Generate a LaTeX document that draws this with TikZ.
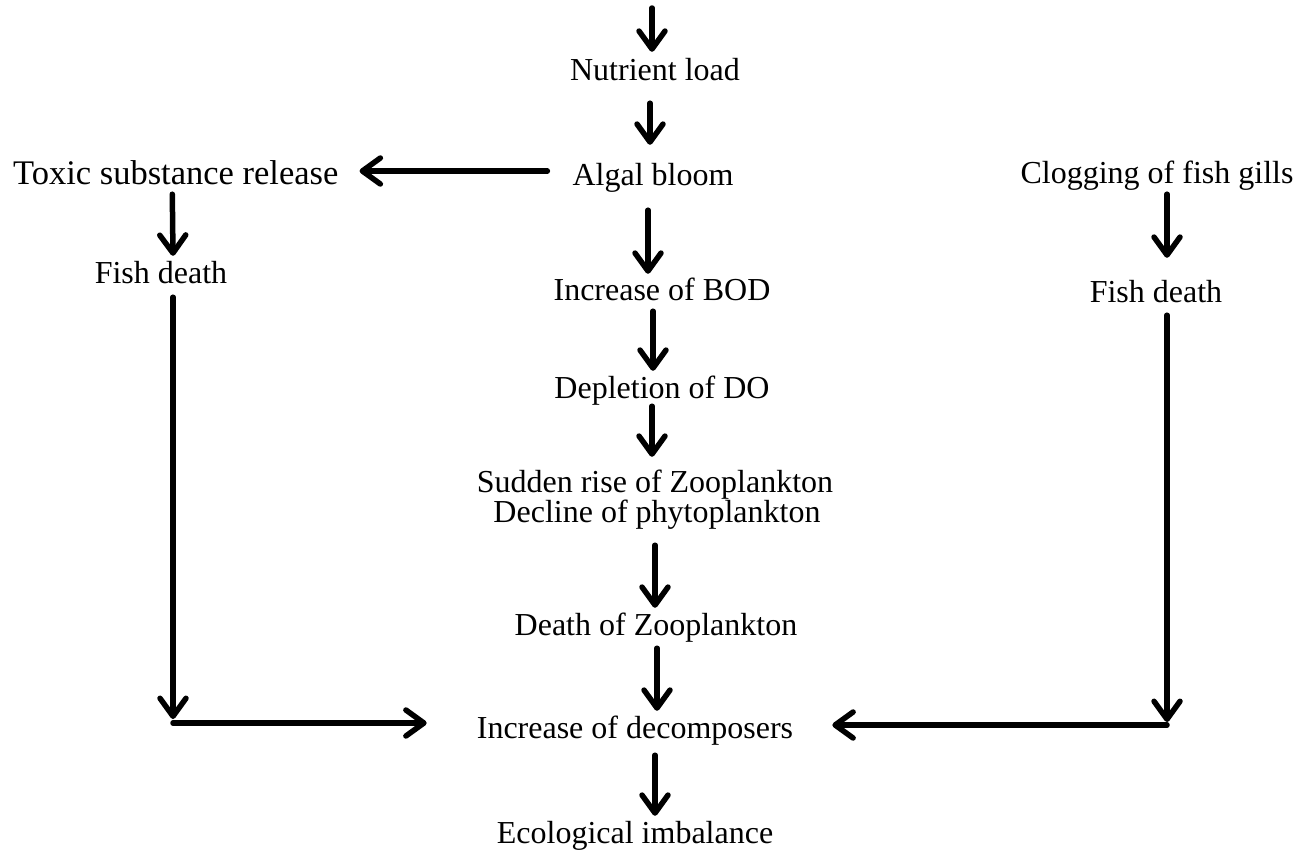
\documentclass[tikz,border=0pt]{standalone}
\usepackage{fontspec}
\setmainfont{Liberation Serif}
\usetikzlibrary{arrows.meta}
\tikzset{
  lbl/.style={anchor=base, inner sep=0pt, text height=22pt, text depth=7pt, font=\fontsize{32}{36}\selectfont},
  arr/.style={line width=5.5pt, -{Straight Barb[length=18pt,width=26pt,round]}},
  flow/.style={line width=5.5pt}
}
\begin{document}
\begin{tikzpicture}[x=1pt, y=-1pt, line join=round, line cap=round]
\useasboundingbox (0,0) rectangle (1308,852);
% centre column
\coordinate (src) at (652,8);
\node[lbl] (nl) at (655,80) {Nutrient load};
\node[lbl] (ab) at (653,185) {Algal bloom};
\node[lbl] (bod) at (662,300) {Increase of BOD};
\node[lbl] (dod) at (662,398) {Depletion of DO};
\node[lbl] (zr) at (655,492) {Sudden rise of Zooplankton};
\node[lbl] (pd) at (657,522) {Decline of phytoplankton};
\node[lbl] (zd) at (656,635) {Death of Zooplankton};
\node[lbl] (dc) at (635,738) {Increase of decomposers};
\node[lbl] (eco) at (635,843) {Ecological imbalance};
% left branch
\node[lbl, anchor=base west, font=\fontsize{34.5}{40}\selectfont] (tox) at (13,184) {Toxic substance release};
\node[lbl] (fl) at (161,283) {Fish death};
\coordinate (cl) at (173,723);
% right branch
\node[lbl] (cg) at (1157,183) {Clogging of fish gills};
\node[lbl] (fr) at (1156,302) {Fish death};
\coordinate (cr) at (1167,725);

\draw[arr] (src) -- ([xshift=-3pt,yshift=6pt]nl.north);
\draw[arr] ([xshift=-5pt,yshift=-16pt]nl.south) -- ([xshift=-3pt,yshift=18pt]ab.north);
\draw[arr] ([xshift=-25pt,yshift=6.5pt]ab.west) -- ([xshift=21pt,yshift=5.5pt]tox.east);
\draw[arr] ([xshift=-5pt,yshift=-18pt]ab.south) -- ([xshift=-14pt,yshift=4pt]bod.north);
\draw[arr] ([xshift=-9pt,yshift=-4pt]bod.south) -- ([xshift=-9pt,yshift=5pt]dod.north);
\draw[arr] ([xshift=-10pt,yshift=-1pt]dod.south) -- ([xshift=-3pt,yshift=13pt]zr.north);
\draw[arr] ([xshift=-2pt,yshift=-16pt]pd.south) -- ([xshift=-1pt,yshift=5pt]zd.north);
\draw[arr] ([xshift=1pt,yshift=-6pt]zd.south) -- ([xshift=22pt,yshift=5pt]dc.north);
\draw[arr] ([xshift=20pt,yshift=-10pt]dc.south) -- ([xshift=20pt,yshift=5pt]eco.north);
% side branches
\draw[arr] ([xshift=-3.5pt,yshift=-3pt]tox.south) -- ([xshift=12pt,yshift=5pt]fl.north);
\draw[arr] ([xshift=12pt,yshift=-7pt]fl.south) -- ([yshift=4pt]cl);
\draw[arr] (cl) -- ([xshift=-50pt,yshift=7.5pt]dc.west);
\draw[arr] ([xshift=10pt,yshift=-4pt]cg.south) -- ([xshift=11pt,yshift=22pt]fr.north);
\draw[arr] ([xshift=11pt,yshift=-6pt]fr.south) -- ([yshift=3pt]cr);
\draw[arr] (cr) -- ([xshift=39pt,yshift=5.5pt]dc.east);
\end{tikzpicture}
\end{document}
